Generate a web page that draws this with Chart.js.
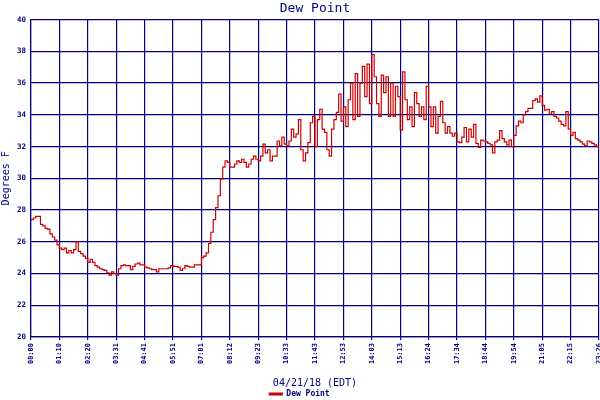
<!DOCTYPE html>
<html>
<head>
<meta charset="utf8">
<title>Dew Point</title>
<script src="https://cdn.jsdelivr.net/npm/chart.js@4/dist/chart.umd.min.js"></script>
<style>
  body { margin: 0; background: #fff; }
  canvas { display: block; }
</style>
</head>
<body>
<canvas id="myChart" width="600" height="400"></canvas>
<script>
// tick labels along the bottom (one every 12 samples)
var timeLabels = ['00:00', '01:10', '02:20', '03:31', '04:41', '05:51', '07:01', '08:12', '09:23', '10:33',
                  '11:43', '12:53', '14:03', '15:13', '16:24', '17:34', '18:44', '19:54', '21:05', '22:15', '23:26'];
var yTicks = [20, 22, 24, 26, 28, 30, 32, 34, 36, 38, 40];

// dew point readings (deg F)
var dewPoint = [
  27.4, 27.5, 27.6, 27.6, 27.1, 27.0, 26.85, 26.8, 26.5, 26.3, 26.1, 25.8,
  25.6, 25.5, 25.6, 25.3, 25.45, 25.3, 25.5, 26.0, 25.4, 25.25, 25.1, 24.95,
  24.7, 24.9, 24.7, 24.5, 24.4, 24.3, 24.25, 24.2, 24.05, 23.9, 24.1, 24.0,
  23.9, 24.3, 24.5, 24.55, 24.5, 24.5, 24.25, 24.45, 24.6, 24.65, 24.55, 24.55,
  24.4, 24.35, 24.3, 24.25, 24.25, 24.1, 24.3, 24.3, 24.3, 24.3, 24.35, 24.5,
  24.45, 24.45, 24.4, 24.2, 24.3, 24.5, 24.45, 24.4, 24.4, 24.55, 24.55, 24.55,
  25.0, 25.1, 25.3, 25.9, 26.6, 27.4, 28.15, 28.9, 29.95, 30.7, 31.1, 31.0,
  30.7, 30.7, 30.9, 31.1, 31.0, 31.2, 31.0, 30.7, 30.9, 31.2, 31.4, 31.2,
  31.1, 31.4, 32.15, 31.6, 31.8, 31.1, 31.4, 31.4, 32.35, 32.05, 32.6, 32.15,
  32.05, 32.35, 33.1, 32.6, 32.8, 33.7, 31.8, 31.1, 31.6, 32.25, 33.5, 33.9,
  32.0, 33.7, 34.35, 33.1, 32.9, 31.8, 31.4, 33.1, 33.7, 34.15, 35.3, 33.6,
  34.5, 33.25, 34.95, 36.0, 33.7, 36.6, 33.9, 36.0, 37.05, 35.15, 37.2, 34.7,
  37.8, 36.4, 34.7, 33.9, 36.5, 35.4, 36.4, 33.9, 36.0, 33.9, 35.8, 35.15,
  33.05, 36.7, 34.95, 33.7, 34.5, 33.25, 35.4, 34.7, 33.9, 34.5, 33.7, 35.8,
  34.5, 33.25, 34.5, 32.85, 33.9, 34.85, 33.5, 32.85, 33.25, 32.85, 32.65, 32.85,
  32.3, 32.25, 32.6, 33.2, 32.3, 33.1, 32.6, 33.4, 32.2, 31.95, 32.4, 32.35,
  32.3, 32.2, 32.1, 31.6, 32.3, 32.4, 33.0, 32.5, 32.3, 32.1, 32.4, 32.0,
  32.7, 33.3, 33.6, 33.5, 34.0, 34.2, 34.4, 34.4, 34.9, 35.0, 34.8, 35.2,
  34.6, 34.3, 34.35, 34.1, 34.2, 33.9, 33.8, 33.6, 33.4, 33.3, 34.2, 33.1,
  32.7, 32.9, 32.5, 32.4, 32.3, 32.15, 32.05, 32.35, 32.3, 32.2, 32.1, 32.0,
  31.8
];

var navy = '#000080';
var red = '#cc0000';
var mono = 'DejaVu Sans Mono';

const points = dewPoint.map((v, i) => ({ x: i, y: v }));

const ctx = document.getElementById('myChart').getContext('2d');
const myChart = new Chart(ctx, {
  type: 'line',
  data: {
    datasets: [{
      label: 'Dew Point',
      data: points,
      borderColor: red,
      backgroundColor: red,
      borderWidth: 1.2,
      pointRadius: 0,
      stepped: true
    }]
  },
  options: {
    responsive: false,
    animation: false,
    devicePixelRatio: 1,
    layout: { padding: { left: 0, right: 1, top: 0, bottom: 0 } },
    plugins: {
      title: {
        display: true,
        fullSize: false,
        text: 'Dew Point',
        color: navy,
        font: { family: mono, size: 13, weight: 'normal' },
        padding: { top: 1, bottom: 3 }
      },
      legend: {
        position: 'bottom',
        maxHeight: 11,
        labels: {
          color: navy,
          boxWidth: 13,
          boxHeight: 2,
          padding: 1,
          font: { family: mono, size: 8, weight: 'bold' }
        }
      },
      tooltip: { enabled: false }
    },
    scales: {
      x: {
        type: 'linear',
        min: 0,
        max: dewPoint.length - 1,
        afterBuildTicks: function (scale) {
          scale.ticks = timeLabels.map((t, i) => ({ value: i * 12 }));
        },
        afterFit: function (scale) {
          scale.height = 52;
          scale.paddingLeft = 0;
          scale.paddingRight = 0;
        },
        grid: { color: navy, lineWidth: 1.2, drawTicks: true, tickLength: 3, tickColor: navy },
        border: { color: navy, width: 1.2 },
        ticks: {
          autoSkip: false,
          minRotation: 90,
          maxRotation: 90,
          color: navy,
          padding: 3,
          font: { family: mono, size: 7, weight: 'bold' },
          callback: function (value) { return timeLabels[Math.round(value / 12)]; }
        },
        title: {
          display: true,
          text: '04/21/18 (EDT)',
          color: navy,
          font: { family: mono, size: 10 },
          padding: { top: 0, bottom: 0 }
        }
      },
      y: {
        min: 20,
        max: 40,
        afterBuildTicks: function (scale) {
          scale.ticks = yTicks.map(v => ({ value: v }));
        },
        afterFit: function (scale) { scale.width = 31; },
        grid: { color: navy, lineWidth: 1.2, drawTicks: false },
        border: { color: navy, width: 1.2 },
        ticks: {
          color: navy,
          padding: 5,
          font: { family: mono, size: 7.5, weight: 'bold' }
        },
        title: {
          display: true,
          text: 'Degrees F',
          color: navy,
          font: { family: mono, size: 10 },
          padding: { top: 0, bottom: 0 }
        }
      }
    }
  }
});
</script>
</body>
</html>
